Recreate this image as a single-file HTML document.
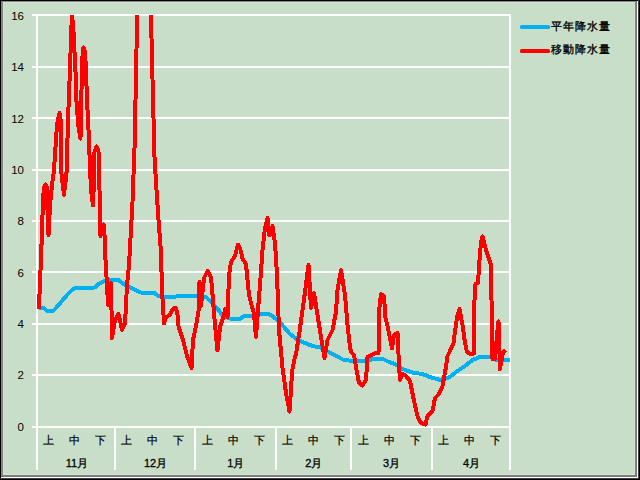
<!DOCTYPE html>
<html lang="ja"><head><meta charset="utf-8"><style>
html,body{margin:0;padding:0;width:640px;height:480px;overflow:hidden;background:#000}
#f{position:absolute;left:0;top:0;width:640px;height:480px;background:#C8DEC8;font-family:"Liberation Sans",sans-serif;color:#000}
.b{position:absolute}
.yl{position:absolute;left:0;width:24px;text-align:right;font-size:11.5px;line-height:12px}
.xl{position:absolute;top:434px;width:40px;text-align:center;font-size:11px;line-height:12px;-webkit-text-stroke:0.2px #000}
.ml{position:absolute;top:457px;width:60px;text-align:center;font-size:11px;line-height:12px;-webkit-text-stroke:0.3px #000}
.lg{position:absolute;left:551px;font-size:11px;line-height:14px;letter-spacing:1px;-webkit-text-stroke:0.35px #000}
svg{position:absolute;left:0;top:0}
</style></head><body><div id="f">
<div class="b" style="left:0;top:0;width:640px;height:1px;background:#000"></div>
<div class="b" style="left:0;top:0;width:1px;height:480px;background:#000"></div>
<div class="b" style="left:638px;top:0;width:1px;height:480px;background:#404040"></div><div class="b" style="left:639px;top:0;width:1px;height:480px;background:#000"></div>
<div class="b" style="left:0;top:478px;width:639px;height:1px;background:#404040"></div><div class="b" style="left:0;top:479px;width:640px;height:1px;background:#000"></div>
<div class="b" style="left:1px;top:1px;width:637px;height:1px;background:#888"></div>
<div class="b" style="left:1px;top:1px;width:2px;height:477px;background:#858585"></div>
<div class="b" style="left:635px;top:1px;width:2px;height:477px;background:#7c7c7c"></div>
<div class="b" style="left:637px;top:1px;width:1px;height:477px;background:#fff"></div>
<div class="b" style="left:1px;top:475px;width:636px;height:2px;background:#7c7c7c"></div>
<div class="b" style="left:1px;top:477px;width:637px;height:1px;background:#fff"></div>
<div class="b" style="left:3px;top:2px;width:632px;height:1px;background:#D0E5D0"></div>
<div class="b" style="left:3px;top:2px;width:1px;height:473px;background:#D0E5D0"></div>
<div class="b" style="left:634px;top:2px;width:1px;height:473px;background:#D0E5D0"></div>
<div class="b" style="left:3px;top:474px;width:632px;height:1px;background:#D0E5D0"></div>
<svg width="640" height="480" viewBox="0 0 640 480">
<defs><clipPath id="c"><rect x="36" y="15" width="475" height="455"/></clipPath></defs>
<rect x="32" y="14" width="479" height="2" fill="#fff"/><rect x="32" y="66" width="479" height="2" fill="#fff"/><rect x="32" y="117" width="479" height="2" fill="#fff"/><rect x="32" y="169" width="479" height="2" fill="#fff"/><rect x="32" y="220" width="479" height="2" fill="#fff"/><rect x="32" y="271" width="479" height="2" fill="#fff"/><rect x="32" y="323" width="479" height="2" fill="#fff"/><rect x="32" y="374" width="479" height="2" fill="#fff"/><rect x="32" y="426" width="479" height="2" fill="#fff"/><rect x="36" y="14" width="2" height="456" fill="#fff"/><rect x="114" y="426" width="2" height="44" fill="#fff"/><rect x="194" y="426" width="2" height="44" fill="#fff"/><rect x="275" y="426" width="2" height="44" fill="#fff"/><rect x="350" y="426" width="2" height="44" fill="#fff"/><rect x="431" y="426" width="2" height="44" fill="#fff"/><rect x="509" y="14" width="2" height="456" fill="#fff"/>
<g clip-path="url(#c)">
<polyline points="39,307.5 44,308 47,311 53,311 56,308 62,301 68,294 72,290 75,288 95,287.5 98.5,284 105,281 111,279.5 118.5,280 123.5,284 133.5,289 141,292.5 153.5,292.5 158.5,296 171,297.5 178.5,296 196,296 206,297 215,306 222.5,315 231,319 240,319 244,316 255,316 258,314 268,314 272.5,316 280,322.5 290,334 297.5,339.5 305,343 312.5,346 320,347.5 330,352.5 340,358 343,359.5 352,361 366,361 373,359 383,359 388,361.5 396,364.5 402.5,369 412.5,372.5 422.5,374 430,377 440,380 449,377.5 457.5,371 465,366 472.5,360 480,357 491,357 495,359.5 510,359.5" fill="none" stroke="#00B0F0" stroke-width="4" stroke-linejoin="round" shape-rendering="crispEdges"/>
<polyline points="39,309 40,280 41,260 42,230 43,200 44,187 45.5,184.5 47,188 47.5,210 48.5,235 50,205 52,185 54,170 57,125 59.5,113 60.5,118 61,150 61,170 64,195 66.8,170 67,160 67.8,125 69,95 70,68 71,39 72,13 73.8,36 74.6,54 75.5,72 76.4,100 78.25,125 80.5,138.5 81,110 81.5,90 82,60 83.5,47.5 85,52 86,70 87,100 88.5,130 89.7,160 91,190 93,205.5 94,180 94.5,152 96.5,146.5 98.5,151 99,180 100,200 100.5,236 103.5,224.5 105,240 105.5,260 107,285 108,305 111,283 111.5,310 112,338 115,320 118.5,314 122,330 125,324 127,285 129,265 131,230 132.5,202 133.5,175 135,135 135.5,100 136.5,50 137,14 137.5,5 150,5 150.5,14 151.5,38 152.5,79 153.5,118 154.5,157 156.5,190 158.5,220 161,252 162,290 164,323.5 166,317 170,315 172,310 174,308 176,308 177.5,315 178.5,326 183.5,342 187,356 191.5,368 193,340 196,326 199,308 199.5,282 201,306 204,278 207.5,271 211,277 213,300 215,325 217.5,350.5 220,327 224,315 225,309 227.5,317 229,275 231,262 235,256 238,244.5 241,251 242.5,259 246,264 249,295 251,303 254,314 256,337 258,310 260,285 262.5,250 265,228 267.5,218 269.5,235.5 272.5,226 275,243 277,275 279,330 282.5,368 286,393 289.5,411.5 291,390 292,372 294,361 296,354 299.5,332 302.5,310 305,292 308.5,265 311,308 314,293 317.5,315 321,337 324.5,358 327.5,340 332.5,330 336,312 337.5,290 341,270 345,295 347.5,325 350,347 351,352 354,355 356,367 359,383 362.5,385.5 366,380 367.5,357 370,356 375,353 378.5,353 379.5,307 381,294 384,296 385.5,318 387.5,326 392,348.5 394,335 397.5,333 399,365 400,380 402.5,374 406,376 410,381 414,401 417.5,416 419,420 422,423.5 425.5,424.5 427.5,416 432.5,411 435,398 439,394 442.5,386 446,367 447.5,356 450,351 453.5,343 455.5,328 457.5,315 459.5,309 462.5,325 465,343 467,352 470,354 474,353.5 474.5,300 475,290 475.5,284 478,283 479.5,260 481,242 482.5,236.5 486,250 491,265 491.5,300 492.5,359 495,359 497,335 498.5,321.5 500,369 503,352 505.5,350" fill="none" stroke="#FF0000" stroke-width="4" stroke-linejoin="round" shape-rendering="crispEdges"/>
</g>
<rect x="520" y="25" width="30" height="4" rx="1.5" fill="#00B0F0"/>
<rect x="520" y="49" width="30" height="4" rx="1.5" fill="#FF0000"/>
</svg>
<div class="yl" style="top:10px">16</div><div class="yl" style="top:61px">14</div><div class="yl" style="top:113px">12</div><div class="yl" style="top:164px">10</div><div class="yl" style="top:215px">8</div><div class="yl" style="top:267px">6</div><div class="yl" style="top:318px">4</div><div class="yl" style="top:369px">2</div><div class="yl" style="top:421px">0</div><div class="xl" style="left:28.6px">上</div><div class="xl" style="left:54.9px">中</div><div class="xl" style="left:80.7px">下</div><div class="ml" style="left:46.9px">11月</div><div class="xl" style="left:106.6px">上</div><div class="xl" style="left:132.9px">中</div><div class="xl" style="left:158.7px">下</div><div class="ml" style="left:125.6px">12月</div><div class="xl" style="left:187.6px">上</div><div class="xl" style="left:213.8px">中</div><div class="xl" style="left:239.8px">下</div><div class="ml" style="left:205.9px">1月</div><div class="xl" style="left:267.6px">上</div><div class="xl" style="left:293.8px">中</div><div class="xl" style="left:319.8px">下</div><div class="ml" style="left:283.7px">2月</div><div class="xl" style="left:343.6px">上</div><div class="xl" style="left:369.8px">中</div><div class="xl" style="left:395.8px">下</div><div class="ml" style="left:361.5px">3月</div><div class="xl" style="left:423.6px">上</div><div class="xl" style="left:449.8px">中</div><div class="xl" style="left:475.8px">下</div><div class="ml" style="left:441.5px">4月</div>
<div class="lg" style="top:19px">平年降水量</div>
<div class="lg" style="top:42px">移動降水量</div>
</div></body></html>
